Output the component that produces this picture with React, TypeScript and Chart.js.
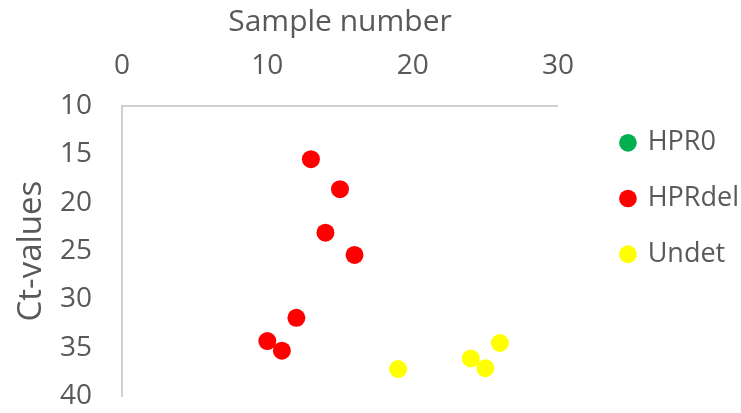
import React, { useEffect, useRef } from "react";
import { Chart, registerables } from "chart.js";

Chart.register(...registerables);

const seriesNames = ["HPR0", "HPRdel", "Undet"];
const seriesColors = ["#00b050", "#ff0000", "#ffff00"];

const hpr0Sample: number[] = [];
const hpr0Ct: number[] = [];
const hprdelSample = [13, 15, 14, 16, 12, 10, 11];
const hprdelCt = [15.5, 18.6, 23.1, 25.4, 31.9, 34.3, 35.3];
const undetSample = [19, 24, 25, 26];
const undetCt = [37.2, 36.1, 37.1, 34.5];

const xTicks = [0, 10, 20, 30];
const yTicks = [10, 15, 20, 25, 30, 35, 40];

const FONT = "'Open Sans', sans-serif";
const TEXT = "#595959";
const AXIS = "#d0d0d0";

function pts(xs: number[], ys: number[]) {
  return xs.map((x, i) => ({ x, y: ys[i] }));
}

export default function App() {
  const ref = useRef<HTMLCanvasElement | null>(null);
  useEffect(() => {
    document.body.style.margin = "0";
    const canvas = ref.current;
    if (!canvas) return;
    const data = [
      pts(hpr0Sample, hpr0Ct),
      pts(hprdelSample, hprdelCt),
      pts(undetSample, undetCt),
    ];
    const chart = new Chart(canvas, {
      type: "scatter",
      data: {
        datasets: seriesNames.map((name, i) => ({
          label: name,
          data: data[i],
          backgroundColor: seriesColors[i],
          borderColor: seriesColors[i],
          borderWidth: 0,
          pointRadius: 9,
          pointHoverRadius: 9,
          pointStyle: "circle",
        })),
      },
      options: {
        animation: false,
        responsive: false,
        maintainAspectRatio: false,
        layout: { padding: { left: 0, top: 0, right: -8, bottom: 16 } },
        plugins: {
          tooltip: { enabled: false },
          legend: {
            position: "right",
            align: "center",
            maxWidth: 300,
            labels: {
              usePointStyle: true,
              pointStyle: "circle",
              boxWidth: 12.5,
              boxHeight: 12.5,
              padding: 28.7,
              color: TEXT,
              font: { family: FONT, size: 27 },
            },
          },
        },
        scales: {
          x: {
            type: "linear",
            position: "top",
            min: 0,
            max: 30,
            afterBuildTicks: (s: any) => {
              s.ticks = xTicks.map((v) => ({ value: v }));
            },
            afterFit: (s: any) => {
              s.height = 106;
            },
            grid: { display: false, drawTicks: false },
            border: { display: true, color: AXIS, width: 2 },
            ticks: {
              padding: 23,
              color: TEXT,
              font: { family: FONT, size: 28 },
            },
            title: {
              display: true,
              text: "Sample number",
              color: TEXT,
              font: { family: FONT, size: 30 },
              padding: { top: 4, bottom: 0 },
            },
          },
          y: {
            type: "linear",
            position: "left",
            reverse: true,
            min: 10,
            max: 40,
            afterBuildTicks: (s: any) => {
              s.ticks = yTicks.map((v) => ({ value: v }));
            },
            afterFit: (s: any) => {
              s.width = 122;
            },
            grid: {
              display: true,
              drawOnChartArea: false,
              drawTicks: true,
              tickLength: 30,
              tickColor: "rgba(0,0,0,0)",
            },
            border: { display: true, color: AXIS, width: 2 },
            ticks: {
              padding: 0,
              color: TEXT,
              font: { family: FONT, size: 28 },
            },
            title: {
              display: true,
              text: "Ct-values",
              color: TEXT,
              font: { family: FONT, size: 33 },
              padding: { top: 12, bottom: 0 },
            },
          },
          gap: {
            type: "linear",
            position: "right",
            display: true,
            grid: { display: false, drawTicks: false },
            border: { display: false },
            ticks: { display: false },
            title: { display: false },
            afterFit: (s: any) => {
              s.width = 35;
            },
          },
        },
      },
    } as any);
    return () => chart.destroy();
  }, []);
  return (
    <div style={{ width: 741, height: 413, background: "#fff" }}>
      <canvas ref={ref} width={741} height={413} style={{ width: 741, height: 413, display: "block" }} />
    </div>
  );
}
